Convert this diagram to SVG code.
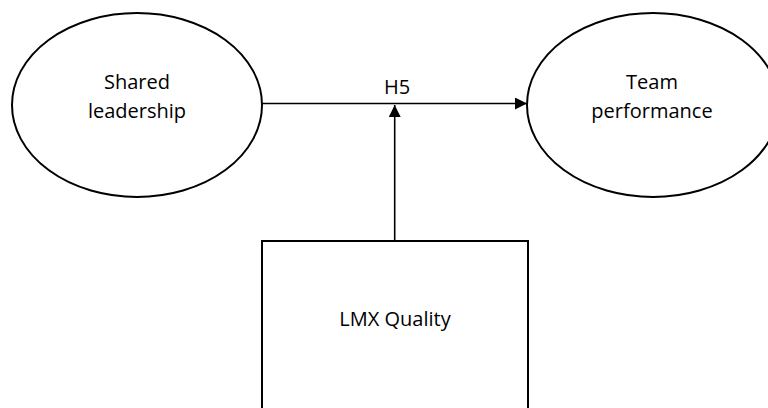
<svg xmlns="http://www.w3.org/2000/svg" width="768" height="408" viewBox="0 0 768 408">
  <style>
    .shape { fill: #ffffff; stroke: #000000; stroke-width: 2; }
    .label { font-family: "Open Sans", "Liberation Sans", sans-serif; font-size: 20px; fill: #000000; text-anchor: middle; }
    .link { stroke: #000000; stroke-width: 1.6; fill: none; }
  </style>
  <defs>
    <marker id="arrow" markerUnits="userSpaceOnUse" markerWidth="12" markerHeight="12" refX="12" refY="6" orient="auto">
      <path d="M0,0 L12,6 L0,12 Z" fill="#000000"/>
    </marker>
  </defs>
  <rect width="768" height="408" fill="#ffffff"/>

  <g id="shared-leadership">
    <ellipse class="shape" cx="137" cy="105" rx="125" ry="92"/>
    <text class="label" x="137" y="89">Shared</text>
    <text class="label" x="137" y="118">leadership</text>
  </g>

  <g id="team-performance">
    <ellipse class="shape" cx="653" cy="105" rx="126" ry="92"/>
    <text class="label" x="652" y="89">Team</text>
    <text class="label" x="652" y="118">performance</text>
  </g>

  <g id="lmx-quality">
    <rect class="shape" x="262" y="241" width="266" height="200"/>
    <text class="label" x="395" y="326">LMX Quality</text>
  </g>

  <g id="connectors">
    <line class="link" x1="262" y1="103.5" x2="527" y2="103.5" marker-end="url(#arrow)"/>
    <line class="link" x1="394.7" y1="241" x2="394.7" y2="105" marker-end="url(#arrow)"/>
    <text class="label" x="397" y="94">H5</text>
  </g>
</svg>
